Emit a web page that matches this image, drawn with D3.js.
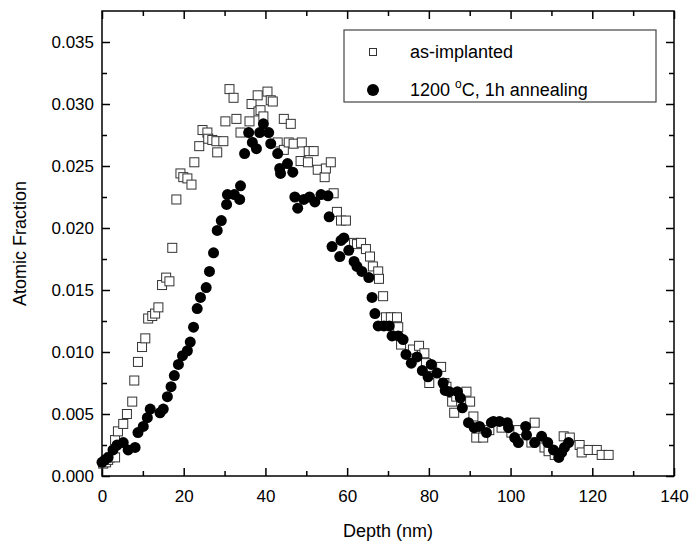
<!DOCTYPE html>
<html>
<head>
<meta charset="utf-8">
<script src="https://cdn.jsdelivr.net/npm/d3@7"></script>
<style>
  body { margin: 0; background: #fff; }
  text { font-family: "Liberation Sans", Arial, sans-serif; }
</style>
</head>
<body>
<svg id="chart" width="694" height="550"></svg>
<script>
// as-implanted profile (open squares)
const implDepth = [0.3, 1.0, 1.5, 2.0, 3.2, 3.2, 3.9, 5.2, 6.1, 7.4, 7.9, 8.8, 9.8, 10.6, 11.3, 12.3, 13.0, 13.8,
  14.7, 15.7, 16.5, 17.2, 18.2, 19.2, 19.9, 20.9, 21.9, 22.6, 23.8, 24.6, 25.8, 26.0, 27.0, 28.0, 28.2, 29.7,
  30.2, 31.2, 32.2, 32.9, 33.9, 36.1, 36.6, 38.1, 38.3, 38.8, 39.5, 40.5, 41.3, 41.8, 43.0, 44.5, 44.5, 45.7,
  46.2, 46.9, 48.6, 48.9, 50.4, 50.6, 51.8, 52.8, 54.5, 54.8, 56.0, 56.7, 57.5, 58.5, 59.7, 61.7, 62.4, 63.4,
  64.6, 65.6, 66.3, 67.6, 67.8, 68.8, 69.5, 70.7, 72.2, 72.5, 73.2, 76.1, 77.6, 78.9, 79.3, 80.1, 80.6, 83.0,
  83.8, 84.3, 85.7, 86.2, 86.7, 89.2, 90.1, 90.9, 91.6, 93.3, 94.8, 97.8, 100.2, 101.9, 105.1, 105.9, 108.3,
  109.3, 110.8, 113.0, 114.5, 116.9, 117.4, 119.1, 121.1, 122.3, 124.0];
const implFrac = [0.0010, 0.0011, 0.0013, 0.0015, 0.0015, 0.0029, 0.0036, 0.0042, 0.0050, 0.0060, 0.0077, 0.0092,
  0.0104, 0.0111, 0.0127, 0.0129, 0.0131, 0.0136, 0.0154, 0.0160, 0.0157, 0.0184, 0.0223, 0.0244, 0.0241, 0.0240,
  0.0235, 0.0253, 0.0266, 0.0279, 0.0277, 0.0272, 0.0271, 0.0270, 0.0261, 0.0270, 0.0286, 0.0312, 0.0305, 0.0288,
  0.0277, 0.0286, 0.0300, 0.0307, 0.0294, 0.0295, 0.0290, 0.0310, 0.0303, 0.0302, 0.0269, 0.0288, 0.0263, 0.0269,
  0.0284, 0.0268, 0.0254, 0.0269, 0.0253, 0.0262, 0.0262, 0.0247, 0.0241, 0.0248, 0.0253, 0.0228, 0.0213, 0.0206,
  0.0206, 0.0188, 0.0187, 0.0188, 0.0183, 0.0177, 0.0169, 0.0165, 0.0159, 0.0145, 0.0128, 0.0128, 0.0128, 0.0120,
  0.0106, 0.0102, 0.0105, 0.0099, 0.0091, 0.0075, 0.0088, 0.0088, 0.0075, 0.0072, 0.0060, 0.0051, 0.0064, 0.0068,
  0.0060, 0.0048, 0.0031, 0.0031, 0.0037, 0.0039, 0.0035, 0.0037, 0.0027, 0.0043, 0.0023, 0.0020, 0.0017, 0.0032,
  0.0031, 0.0025, 0.0019, 0.0021, 0.0021, 0.0017, 0.0017];

// 1200 C, 1h annealing (filled circles)
const annDepth = [0.0, 0.7, 1.5, 2.7, 3.7, 5.2, 6.4, 8.1, 8.8, 10.1, 11.1, 11.8, 14.2, 15.0, 16.0, 16.9, 17.7, 18.7,
  19.7, 20.9, 21.6, 22.4, 23.3, 24.1, 25.5, 26.3, 27.3, 28.2, 29.2, 30.5, 30.7, 32.4, 33.7, 33.9, 34.9, 35.9,
  36.8, 37.8, 38.6, 39.5, 40.8, 41.3, 43.0, 43.5, 43.7, 45.4, 46.7, 47.2, 47.9, 49.4, 50.8, 52.1, 53.6, 55.3,
  55.6, 56.3, 58.2, 58.5, 59.2, 60.4, 61.7, 62.4, 63.6, 65.3, 66.1, 66.8, 67.6, 69.0, 70.3, 71.0, 72.5, 73.7,
  74.4, 75.7, 77.1, 78.4, 79.8, 80.6, 82.0, 83.5, 84.0, 85.0, 87.0, 87.7, 88.2, 89.7, 91.1, 92.4, 94.1, 95.3,
  95.8, 97.3, 99.2, 99.5, 101.0, 101.9, 103.7, 103.9, 105.9, 107.6, 109.1, 110.5, 111.8, 112.5, 113.2, 114.2];
const annFrac = [0.0011, 0.0013, 0.0015, 0.0021, 0.0025, 0.0027, 0.0021, 0.0023, 0.0035, 0.0040, 0.0047, 0.0054,
  0.0051, 0.0054, 0.0064, 0.0072, 0.0081, 0.0090, 0.0097, 0.0101, 0.0108, 0.0120, 0.0135, 0.0144, 0.0152, 0.0165,
  0.0180, 0.0198, 0.0206, 0.0219, 0.0227, 0.0227, 0.0223, 0.0234, 0.0260, 0.0277, 0.0269, 0.0264, 0.0277, 0.0284,
  0.0277, 0.0268, 0.0260, 0.0248, 0.0244, 0.0252, 0.0245, 0.0225, 0.0216, 0.0223, 0.0225, 0.0221, 0.0227, 0.0226,
  0.0209, 0.0185, 0.0177, 0.0190, 0.0192, 0.0182, 0.0173, 0.0169, 0.0165, 0.0160, 0.0144, 0.0131, 0.0121, 0.0121,
  0.0121, 0.0113, 0.0113, 0.0110, 0.0098, 0.0091, 0.0096, 0.0085, 0.0080, 0.0090, 0.0083, 0.0075, 0.0069, 0.0068,
  0.0068, 0.0063, 0.0055, 0.0043, 0.0039, 0.0040, 0.0035, 0.0043, 0.0044, 0.0044, 0.0043, 0.0039, 0.0031, 0.0027,
  0.0040, 0.0033, 0.0027, 0.0032, 0.0027, 0.0021, 0.0015, 0.0019, 0.0023, 0.0027];

const xTicks = [0, 20, 40, 60, 80, 100, 120, 140];
const yTicks = [0.000, 0.005, 0.010, 0.015, 0.020, 0.025, 0.030, 0.035];
const legendLabels = ['as-implanted', '1200 °C, 1h annealing'];

const svg = d3.select('#chart');
const plot = { left: 102, right: 674, top: 11, bottom: 476 };

// scales
const x = d3.scaleLinear().domain([0, 140]).range([plot.left, plot.right]);
const y = d3.scaleLinear().domain([0, 0.0375]).range([plot.bottom, plot.top]);

const xMinor = d3.range(10, 140, 20);
const yMinor = d3.range(0.0025, 0.0375, 0.005);

// axes with inward ticks, mirrored on top and right
function drawAxis(axis, tr) {
  const g = svg.append('g').attr('transform', tr).call(axis);
  g.select('.domain').remove();
  g.selectAll('.tick line').attr('stroke', '#000').attr('stroke-width', 1.5);
  g.selectAll('.tick text').attr('font-size', 17).attr('fill', '#000')
    .style('font-family', '"Liberation Sans", Arial, sans-serif');
  return g;
}
// bottom
drawAxis(d3.axisBottom(x).tickValues(xTicks).tickSize(-8).tickPadding(14), `translate(0,${plot.bottom})`);
drawAxis(d3.axisBottom(x).tickValues(xMinor).tickSize(-5).tickFormat(''), `translate(0,${plot.bottom})`);
// top
drawAxis(d3.axisTop(x).tickValues(xTicks).tickSize(-8).tickFormat(''), `translate(0,${plot.top})`);
drawAxis(d3.axisTop(x).tickValues(xMinor).tickSize(-5).tickFormat(''), `translate(0,${plot.top})`);
// left
drawAxis(d3.axisLeft(y).tickValues(yTicks).tickSize(-8).tickPadding(8).tickFormat(d3.format('.3f')), `translate(${plot.left},0)`);
drawAxis(d3.axisLeft(y).tickValues(yMinor).tickSize(-5).tickFormat(''), `translate(${plot.left},0)`);
// right
drawAxis(d3.axisRight(y).tickValues(yTicks).tickSize(-8).tickFormat(''), `translate(${plot.right},0)`);
drawAxis(d3.axisRight(y).tickValues(yMinor).tickSize(-5).tickFormat(''), `translate(${plot.right},0)`);

// frame
svg.append('rect')
  .attr('x', plot.left).attr('y', plot.top)
  .attr('width', plot.right - plot.left).attr('height', plot.bottom - plot.top)
  .attr('fill', 'none').attr('stroke', '#000').attr('stroke-width', 1.5);

// data points
const impl = implDepth.map((d, i) => [d, implFrac[i]]);
const ann = annDepth.map((d, i) => [d, annFrac[i]]);

svg.append('g').selectAll('rect')
  .data(impl)
  .join('rect')
    .attr('x', d => x(d[0]) - 4.5)
    .attr('y', d => y(d[1]) - 4.5)
    .attr('width', 9).attr('height', 9)
    .attr('fill', '#fff').attr('stroke', '#333').attr('stroke-width', 1);

svg.append('g').selectAll('circle')
  .data(ann)
  .join('circle')
    .attr('cx', d => x(d[0]))
    .attr('cy', d => y(d[1]))
    .attr('r', 5.5)
    .attr('fill', '#000');

// axis titles
svg.append('text')
  .attr('x', (plot.left + plot.right) / 2).attr('y', 537)
  .attr('text-anchor', 'middle').attr('font-size', 18)
  .text('Depth (nm)');

svg.append('text')
  .attr('transform', `translate(26,${(plot.top + plot.bottom) / 2}) rotate(-90)`)
  .attr('text-anchor', 'middle').attr('font-size', 18)
  .text('Atomic Fraction');

// legend
const legend = svg.append('g');
legend.append('rect')
  .attr('x', 344).attr('y', 30).attr('width', 312).attr('height', 72)
  .attr('fill', '#fff').attr('stroke', '#444').attr('stroke-width', 1.2);
legend.append('rect')
  .attr('x', 369.5).attr('y', 48.5).attr('width', 7).attr('height', 7)
  .attr('fill', '#fff').attr('stroke', '#333').attr('stroke-width', 1);
legend.append('circle').attr('cx', 373).attr('cy', 90).attr('r', 6).attr('fill', '#000');

legend.append('text').attr('x', 410).attr('y', 58).attr('font-size', 18).text(legendLabels[0]);
const t2 = legend.append('text').attr('x', 410).attr('y', 96).attr('font-size', 18);
t2.append('tspan').text('1200 ');
t2.append('tspan').attr('font-size', 12).attr('dy', -8).text('o');
t2.append('tspan').attr('dy', 8).text('C, 1h annealing');
</script>
</body>
</html>
